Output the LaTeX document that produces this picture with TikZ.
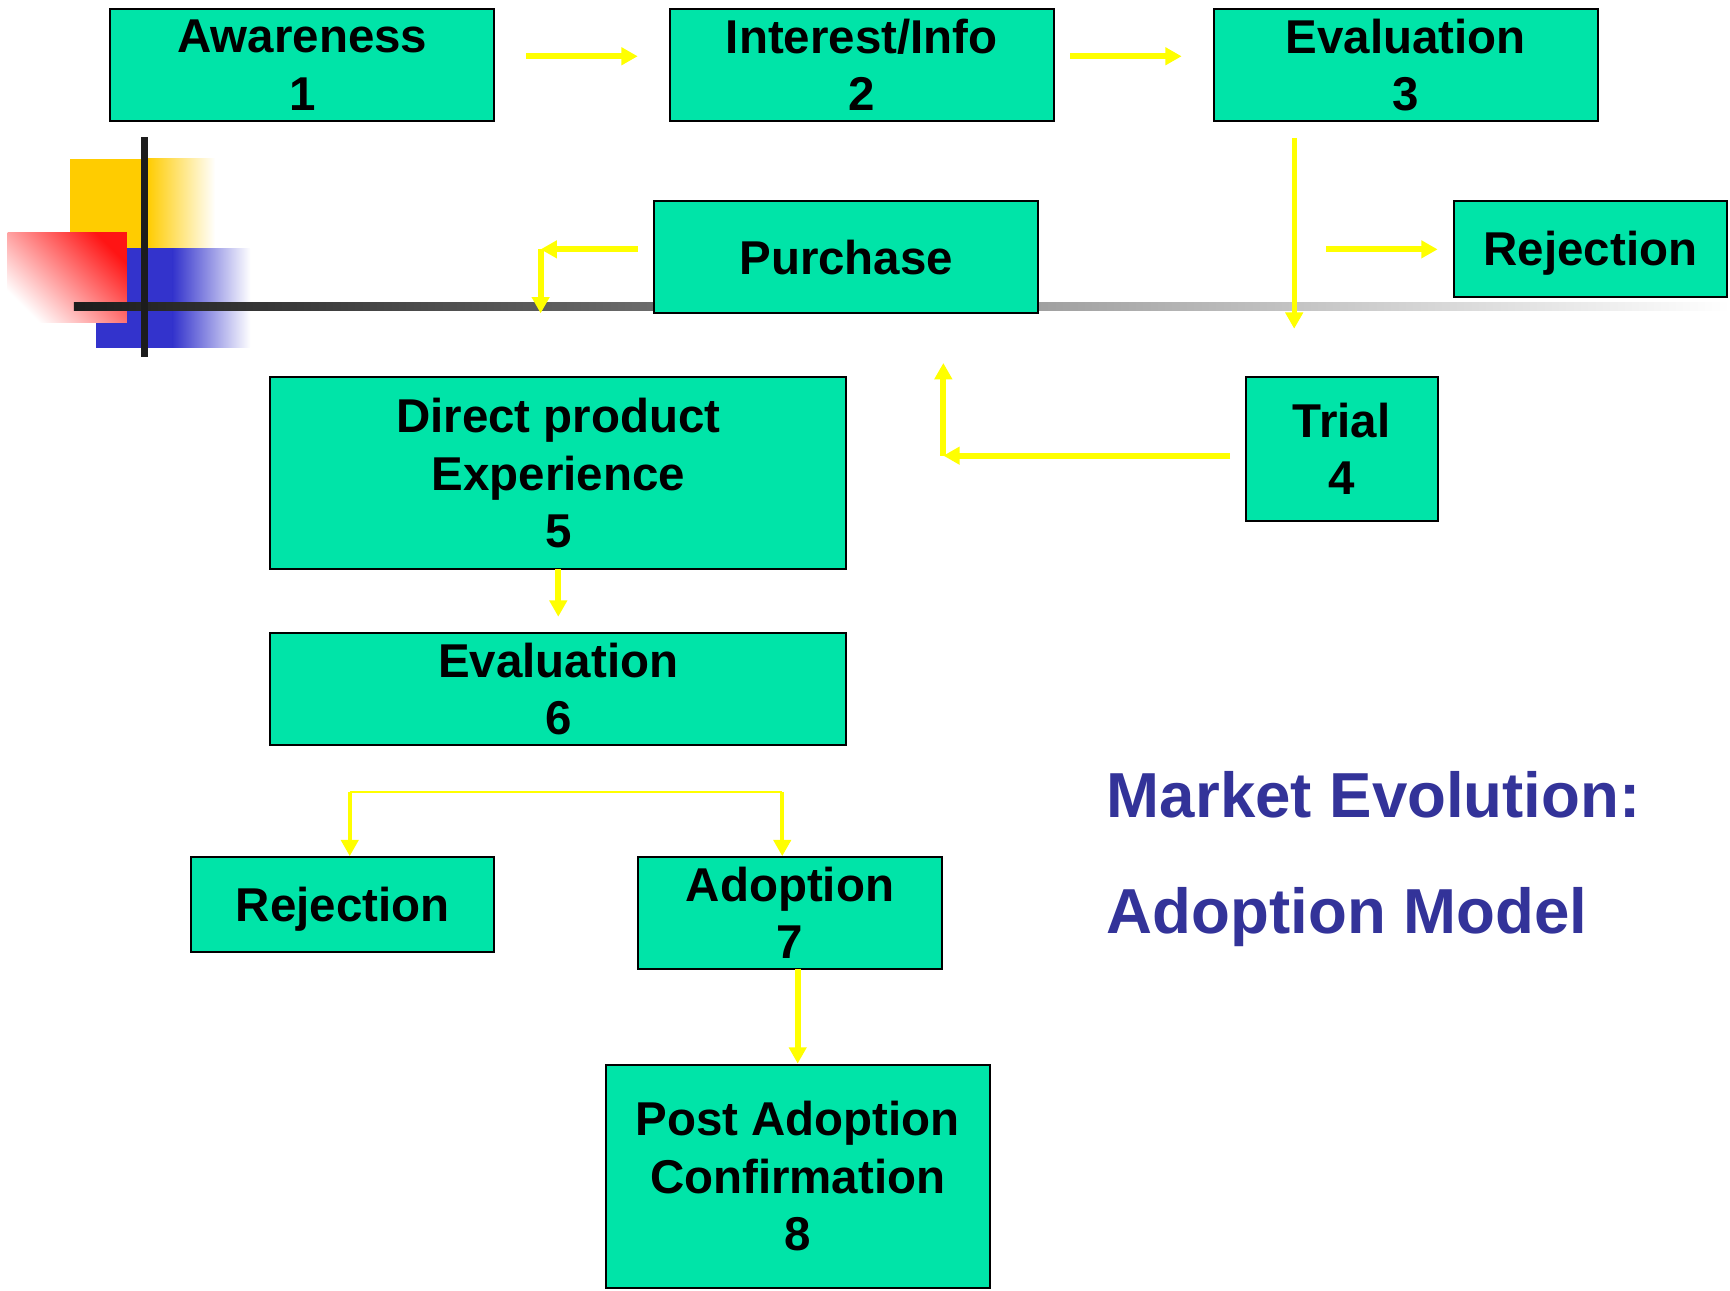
\documentclass[tikz,border=0pt]{standalone}
\usepackage{fontspec}
\setmainfont{Liberation Sans}
\usetikzlibrary{arrows.meta}
\definecolor{boxgreen}{RGB}{0,228,168}
\definecolor{ayellow}{RGB}{255,255,0}
\definecolor{titleblue}{RGB}{51,51,153}
\definecolor{decoyellow}{RGB}{255,204,0}
\definecolor{decoblue}{RGB}{51,51,204}
\definecolor{decored}{RGB}{255,20,20}
\definecolor{barblack}{RGB}{28,28,28}
\def\U{*0.025cm}
\tikzset{
 box/.style={draw=black, line width=1.3pt, fill=boxgreen, inner sep=0pt, align=center,
   font=\fontsize{30.6}{37}\selectfont\bfseries},
 arr/.style={draw=ayellow, line width=3.8pt, -{Triangle[length=10.5pt,width=11pt]}},
 thinline/.style={draw=ayellow, line width=1.4pt},
 titletext/.style={text=titleblue, font=\fontsize{41}{49}\selectfont\bfseries, anchor=base west, inner sep=0pt}
}
\begin{document}
\begin{tikzpicture}[x=0.025cm, y=-0.025cm]
\useasboundingbox (0,0) rectangle (1568,1170);
% decoration
\fill[decoyellow] (63,144) rectangle (134,225);
\shade[left color=decoyellow, right color=white] (133.5,144) rectangle (195,225);
\fill[decoblue] (87,225) rectangle (157,315);
\shade[left color=decoblue, right color=white] (156.5,225) rectangle (227,315);
\shade[shading=axis, top color=decored, bottom color=white, shading angle=-45] (7,211) rectangle (115,292);
\shade[left color=barblack, middle color=black!35, right color=white] (67,274) rectangle (1568,281);
\fill[barblack] (128,124) rectangle (134.5,324);
% boxes
\node[box, minimum width=348\U, minimum height=102\U] (aw) at (274,59) {Awareness\\1};
\node[box, minimum width=348\U, minimum height=102\U] (int) at (781,59) {Interest/Info\\2};
\node[box, minimum width=348\U, minimum height=102\U] (ev3) at (1274,59) {Evaluation\\3};
\node[box, text depth=0pt, minimum width=247\U, minimum height=87\U] (rej1) at (1441.5,225.5) {Rejection};
\node[box, minimum width=348\U, minimum height=102\U] (pur) at (767,233) {Purchase};
\node[box, minimum width=174\U, minimum height=130\U] (trial) at (1216,407) {Trial\\4};
\node[box, minimum width=522\U, minimum height=174\U] (dpe) at (506,429) {Direct product\\Experience\\5};
\node[box, minimum width=522\U, minimum height=101\U] (ev6) at (506,624.5) {Evaluation\\6};
\node[box, text depth=0pt, minimum width=275\U, minimum height=86\U] (rej2) at (310.5,820) {Rejection};
\node[box, minimum width=276\U, minimum height=101\U] (ad7) at (716,827.5) {Adoption\\7};
\node[box, minimum width=348\U, minimum height=202\U] (pac8) at (723,1066) {Post Adoption\\Confirmation\\8};
% connector end points
\coordinate (a1s) at (477,51); \coordinate (a1e) at (578,51);
\coordinate (a2s) at (970,51); \coordinate (a2e) at (1071,51);
\coordinate (a3s) at (1173,125); \coordinate (a3e) at (1173,298);
\coordinate (a4s) at (1202,226); \coordinate (a4e) at (1303,226);
\coordinate (a5s) at (578,226); \coordinate (a5c) at (490,226); \coordinate (a5e) at (490,284);
\coordinate (a7s) at (1115,413); \coordinate (a7c) at (855,413); \coordinate (a7e) at (855,329);
\coordinate (a9s) at (506,516); \coordinate (a9e) at (506,559);
\coordinate (bl) at (317,776); \coordinate (blt) at (317,718); \coordinate (brt) at (709,718); \coordinate (br) at (709,776);
\coordinate (a10s) at (723,878); \coordinate (a10e) at (723,964);
% connectors
\draw[arr] (a1s) -- (a1e);
\draw[arr] (a2s) -- (a2e);
\draw[arr, line width=3pt] (a3s) -- (a3e);
\draw[arr] (a4s) -- (a4e);
\draw[arr] (a5s) -- (a5c);
\draw[arr] (a5c) -- (a5e);
\draw[arr] (a7s) -- (a7c);
\draw[arr] (a7c) -- (a7e);
\draw[arr] (a9s) -- (a9e);
\draw[thinline] (blt) -- (brt);
\draw[arr, line width=2.8pt] (blt) -- (bl);
\draw[arr, line width=2.8pt] (brt) -- (br);
\draw[arr] (a10s) -- (a10e);
% title
\node[titletext] (t1) at (1003,741) {Market Evolution:};
\node[titletext] (t2) at (1003,846) {Adoption Model};
\end{tikzpicture}
\end{document}
